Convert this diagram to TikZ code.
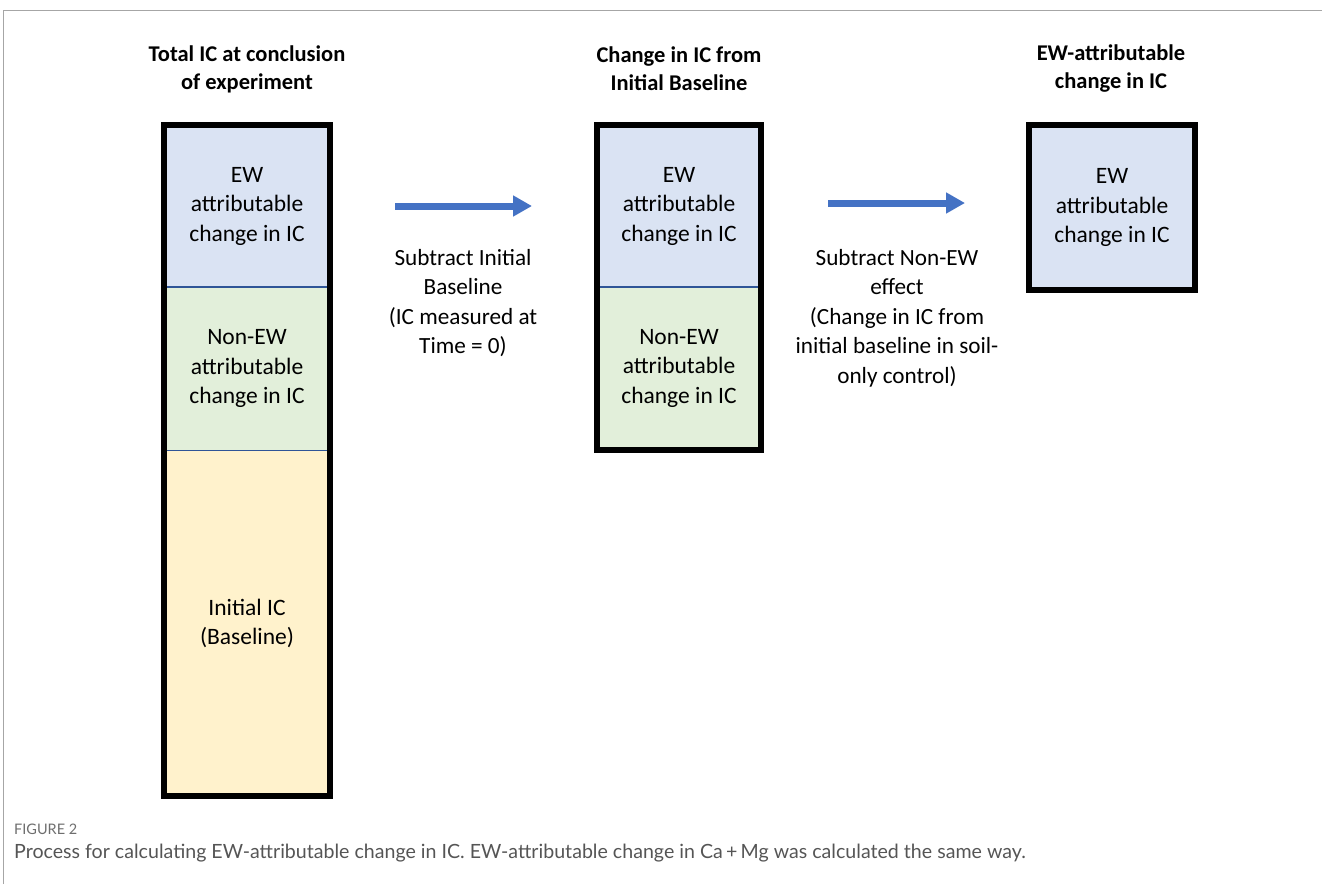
\documentclass[tikz,border=0pt]{standalone}
\usepackage{fontspec}
\setmainfont{Carlito}
\newfontfamily\capfont{Lato}
\usetikzlibrary{arrows.meta}
\definecolor{ewblue}{HTML}{DAE3F3}
\definecolor{nongreen}{HTML}{E2EFDA}
\definecolor{baseyel}{HTML}{FFF2CC}
\definecolor{divblue}{HTML}{2F5597}
\definecolor{arrblue}{HTML}{4472C4}
\definecolor{capgray}{HTML}{555555}
\definecolor{framegray}{HTML}{A6A6A6}
\tikzset{
  seg/.style={rectangle, draw=none, inner sep=0pt, align=center,
    font=\fontsize{23.5}{29.5}\selectfont, text=black},
  hdr/.style={inner sep=0pt, align=center, font=\bfseries\fontsize{22.5}{28}\selectfont},
  lbl/.style={inner sep=0pt, align=center, font=\fontsize{23.2}{29.5}\selectfont},
  outer/.style={draw=black, line width=6pt},
  divider/.style={draw=divblue, line width=1.5pt},
  bigarrow/.style={draw=arrblue, line width=7pt, -{Triangle[length=19pt,width=20pt]}},
}
\begin{document}
\begin{tikzpicture}[x=1pt,y=-1pt]
\useasboundingbox (0,0) rectangle (1322,884);
% frame
\draw[framegray, line width=1.2pt] (3.5,884) -- (3.5,10.5) -- (1322,10.5);
% headers
\node[hdr] (h1) at (247,69) {Total IC at conclusion\\of experiment};
\node[hdr] (h2) at (679,69) {Change in IC from\\Initial Baseline};
\node[hdr] (h3) at (1111,69) {EW-attributable\\change in IC};
% box 1
\node[seg, fill=ewblue, minimum width=166pt, minimum height=162pt] (b1a) at (247,206) {EW\\attributable\\change in IC};
\node[seg, fill=nongreen, minimum width=166pt, minimum height=163pt, anchor=north] (b1b) at (b1a.south) {Non-EW\\attributable\\change in IC};
\node[seg, fill=baseyel, minimum width=166pt, minimum height=345pt, anchor=north] (b1c) at (b1b.south) {Initial IC\\(Baseline)};
\draw[divider] (b1a.south west) -- (b1a.south east);
\draw[divider] (b1b.south west) -- (b1b.south east);
\draw[outer] (b1a.north west) rectangle (b1c.south east);
% box 2
\node[seg, fill=ewblue, minimum width=164pt, minimum height=162pt] (b2a) at (679,206) {EW\\attributable\\change in IC};
\node[seg, fill=nongreen, minimum width=164pt, minimum height=162pt, anchor=north] (b2b) at (b2a.south) {Non-EW\\attributable\\change in IC};
\draw[divider] (b2a.south west) -- (b2a.south east);
\draw[outer] (b2a.north west) rectangle (b2b.south east);
% box 3
\node[seg, fill=ewblue, minimum width=166pt, minimum height=165pt] (b3a) at (1112,207.5) {EW\\attributable\\change in IC};
\draw[outer] (b3a.north west) rectangle (b3a.south east);
% arrows
\coordinate (a1s) at (395,206);
\coordinate (a1e) at (532,206);
\coordinate (a2s) at (828,203);
\coordinate (a2e) at (965,203);
\draw[bigarrow] (a1s) -- (a1e);
\draw[bigarrow] (a2s) -- (a2e);
% arrow labels
\node[lbl, anchor=north] (l1) at (463,249) {Subtract Initial\\Baseline\\(IC measured at\\Time = 0)};
\node[lbl, anchor=north] (l2) at (897,249) {Subtract Non-EW\\effect\\(Change in IC from\\initial baseline in soil-\\only control)};
% caption
\node[anchor=west, inner sep=0pt, text=capgray!85, font=\capfont\fontsize{14.5}{16}\selectfont] (fig) at (14,829) {FIGURE 2};
\node[anchor=west, inner sep=0pt, text=capgray, font=\capfont\fontsize{19.6}{22}\selectfont] (cap) at (14,853) {Process for calculating EW-attributable change in IC. EW-attributable change in Ca\,+\,Mg was calculated the same way.};
\end{tikzpicture}
\end{document}
